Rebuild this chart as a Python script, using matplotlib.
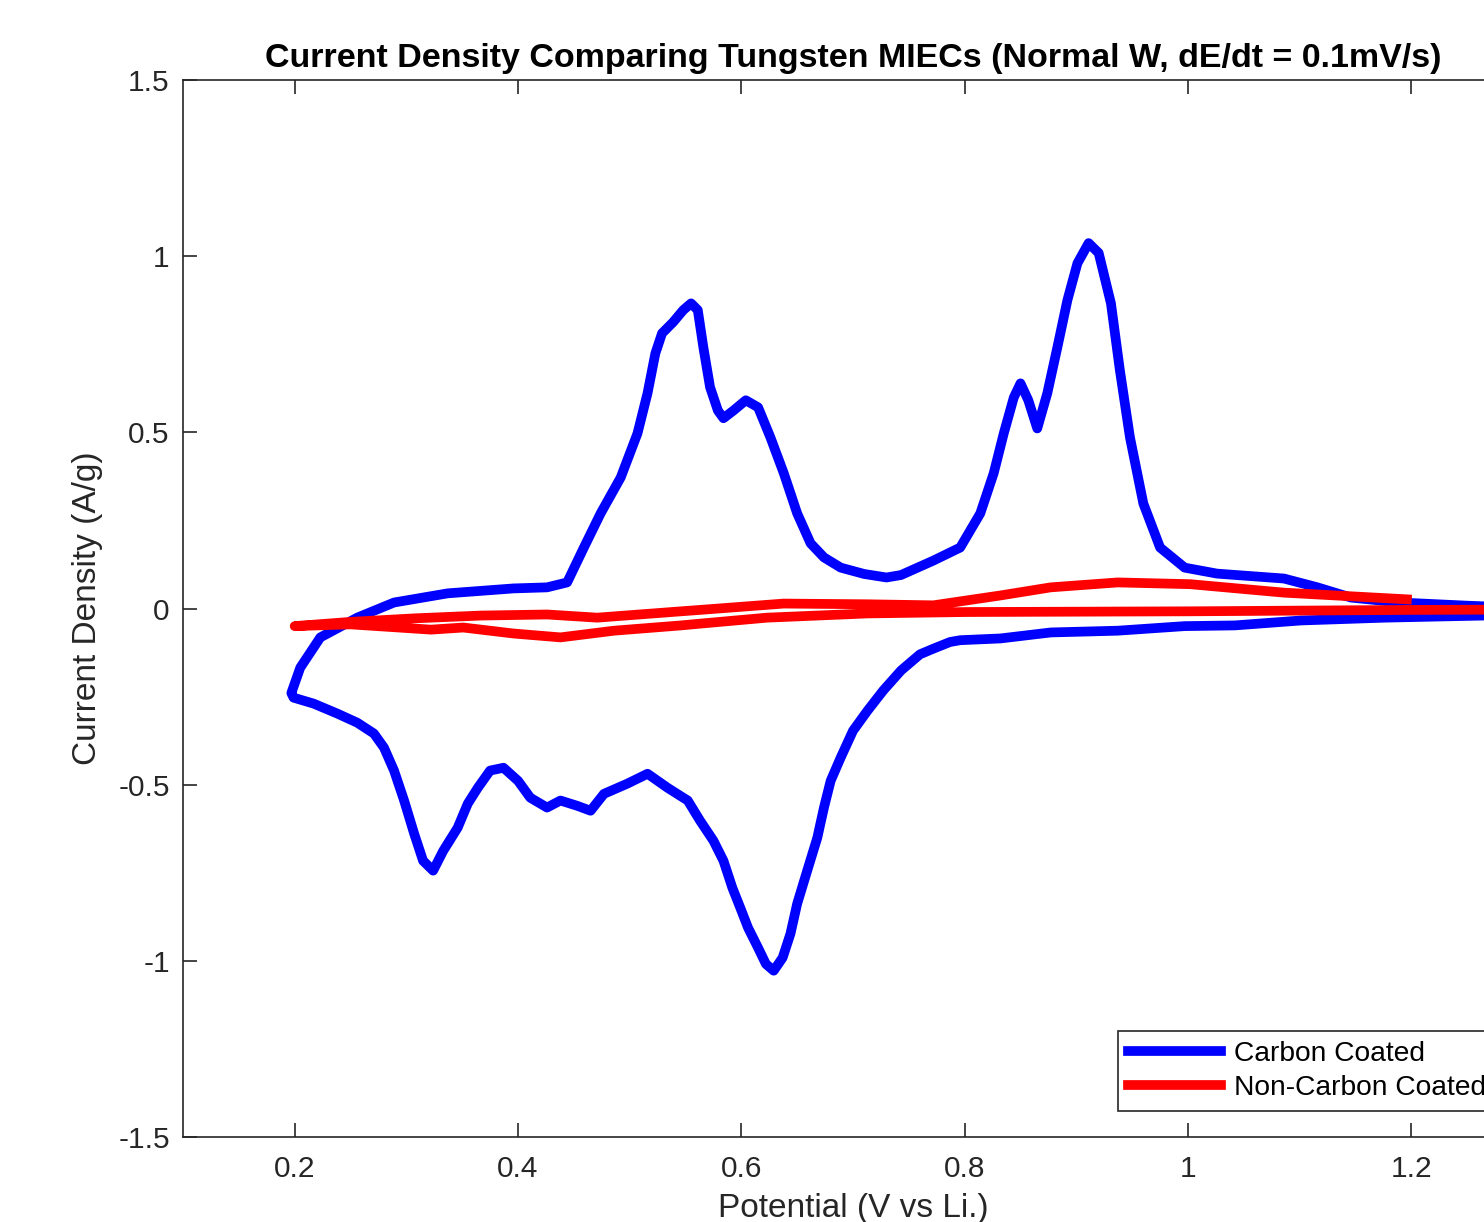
import matplotlib
matplotlib.use("Agg")
import matplotlib.pyplot as plt

plt.rcParams['font.family'] = ['Liberation Sans', 'DejaVu Sans']
plt.rcParams['axes.unicode_minus'] = False

# Carbon coated: cathodic sweep (1.3 -> 0.2) then anodic sweep (0.2 -> 1.3)
carbon_v = [1.30, 1.265, 1.176, 1.101, 1.042, 0.997, 0.937, 0.877, 0.832, 0.796,
            0.787, 0.772, 0.760, 0.743, 0.727, 0.713, 0.700, 0.689, 0.680, 0.674,
            0.668, 0.659, 0.650, 0.644, 0.637, 0.629, 0.622, 0.615, 0.606, 0.599,
            0.592, 0.584, 0.575, 0.563, 0.552, 0.534, 0.516, 0.498, 0.477, 0.465,
            0.453, 0.438, 0.426, 0.411, 0.400, 0.387, 0.375, 0.364, 0.355, 0.346,
            0.333, 0.324, 0.315, 0.307, 0.298, 0.289, 0.280, 0.271, 0.256, 0.238,
            0.217, 0.199, 0.197,
            0.205, 0.223, 0.256, 0.289, 0.337, 0.396, 0.426, 0.444, 0.459, 0.474,
            0.492, 0.507, 0.516, 0.523, 0.529, 0.539, 0.548, 0.555, 0.561, 0.566,
            0.572, 0.579, 0.584, 0.593, 0.604, 0.615, 0.626, 0.638, 0.650, 0.662,
            0.674, 0.689, 0.710, 0.730, 0.743, 0.772, 0.796, 0.814, 0.826, 0.835,
            0.844, 0.850, 0.857, 0.865, 0.874, 0.883, 0.892, 0.901, 0.911, 0.920,
            0.931, 0.939, 0.948, 0.960, 0.975, 0.997, 1.026, 1.086, 1.116, 1.146,
            1.190, 1.25, 1.30]
carbon_j = [-0.019, -0.020, -0.026, -0.034, -0.048, -0.050, -0.063, -0.068, -0.085, -0.090,
            -0.095, -0.114, -0.130, -0.176, -0.233, -0.290, -0.347, -0.423, -0.489, -0.565,
            -0.651, -0.744, -0.838, -0.923, -0.991, -1.028, -1.009, -0.963, -0.906, -0.849,
            -0.793, -0.716, -0.659, -0.602, -0.545, -0.509, -0.469, -0.497, -0.526, -0.574,
            -0.560, -0.545, -0.565, -0.537, -0.489, -0.452, -0.460, -0.509, -0.554, -0.622,
            -0.688, -0.744, -0.716, -0.639, -0.545, -0.460, -0.395, -0.355, -0.324, -0.298,
            -0.270, -0.253, -0.240,
            -0.168, -0.082, -0.026, 0.017, 0.043, 0.057, 0.060, 0.074, 0.173, 0.270,
            0.372, 0.497, 0.611, 0.724, 0.781, 0.813, 0.847, 0.866, 0.847, 0.741,
            0.628, 0.562, 0.540, 0.562, 0.591, 0.571, 0.486, 0.384, 0.270, 0.185,
            0.145, 0.116, 0.098, 0.088, 0.095, 0.136, 0.173, 0.270, 0.384, 0.497,
            0.599, 0.639, 0.591, 0.511, 0.611, 0.741, 0.875, 0.980, 1.037, 1.009,
            0.866, 0.676, 0.486, 0.298, 0.173, 0.116, 0.099, 0.085, 0.060, 0.031,
            0.017, 0.008, 0.002]

# Non-carbon coated: cathodic sweep (1.3 -> 0.2) then anodic sweep (0.2 -> 1.2)
plain_v = [1.30, 1.20, 1.10, 1.002, 0.802, 0.713, 0.623, 0.563, 0.546, 0.486,
           0.438, 0.396, 0.351, 0.322, 0.25, 0.20,
           0.25, 0.307, 0.367, 0.426, 0.471, 0.546, 0.563, 0.638, 0.713, 0.772,
           0.832, 0.877, 0.937, 1.002, 1.086, 1.196]
plain_j = [-0.003, -0.004, -0.006, -0.008, -0.010, -0.014, -0.026, -0.043, -0.048, -0.063,
           -0.082, -0.071, -0.054, -0.060, -0.045, -0.050,
           -0.038, -0.028, -0.020, -0.017, -0.026, -0.008, -0.004, 0.014, 0.012, 0.009,
           0.037, 0.060, 0.074, 0.069, 0.045, 0.026]

fig = plt.figure(figsize=(14.84, 12.22), dpi=100)
ax = fig.add_axes([183/1484, 1 - 1137/1222, 1340/1484, 1057/1222])

ax.plot(carbon_v, carbon_j, color='#0000ff', linewidth=7, solid_joinstyle='round',
        label='Carbon Coated')
ax.plot(plain_v, plain_j, color='#ff0000', linewidth=7, solid_joinstyle='round',
        label='Non-Carbon Coated')

ax.set_xlim(0.1, 1.3)
ax.set_ylim(-1.5, 1.5)
ax.set_xticks([0.2, 0.4, 0.6, 0.8, 1.0, 1.2])
ax.set_xticklabels(['0.2', '0.4', '0.6', '0.8', '1', '1.2'])
ax.set_yticks([-1.5, -1, -0.5, 0, 0.5, 1, 1.5])
ax.set_yticklabels(['-1.5', '-1', '-0.5', '0', '0.5', '1', '1.5'])

axis_col = '#262626'
for s in ax.spines.values():
    s.set_color(axis_col)
    s.set_linewidth(1.2)
ax.tick_params(direction='in', length=10, width=1.2, colors=axis_col,
               labelsize=21.5, top=True, right=True)
ax.tick_params(axis='x', pad=13)
ax.tick_params(axis='y', pad=9.5)

ax.set_title('Current Density Comparing Tungsten MIECs (Normal W, dE/dt = 0.1mV/s)',
             fontsize=24.5, fontweight='bold', pad=9)
ax.set_xlabel('Potential (V vs Li.)', fontsize=24, color=axis_col, labelpad=7)
ax.set_ylabel('Current Density (A/g)', fontsize=24, color=axis_col, labelpad=11)

leg = ax.legend(loc='upper left', bbox_to_anchor=(1118/1484, 1 - 1031/1222),
                bbox_transform=fig.transFigure, fontsize=20.3, handlelength=3.3,
                fancybox=False, framealpha=1, edgecolor=axis_col,
                borderpad=0.35, labelspacing=0.3, handletextpad=0.45, borderaxespad=0)
leg.get_frame().set_linewidth(1.2)

fig.savefig('out.png', dpi=100)
